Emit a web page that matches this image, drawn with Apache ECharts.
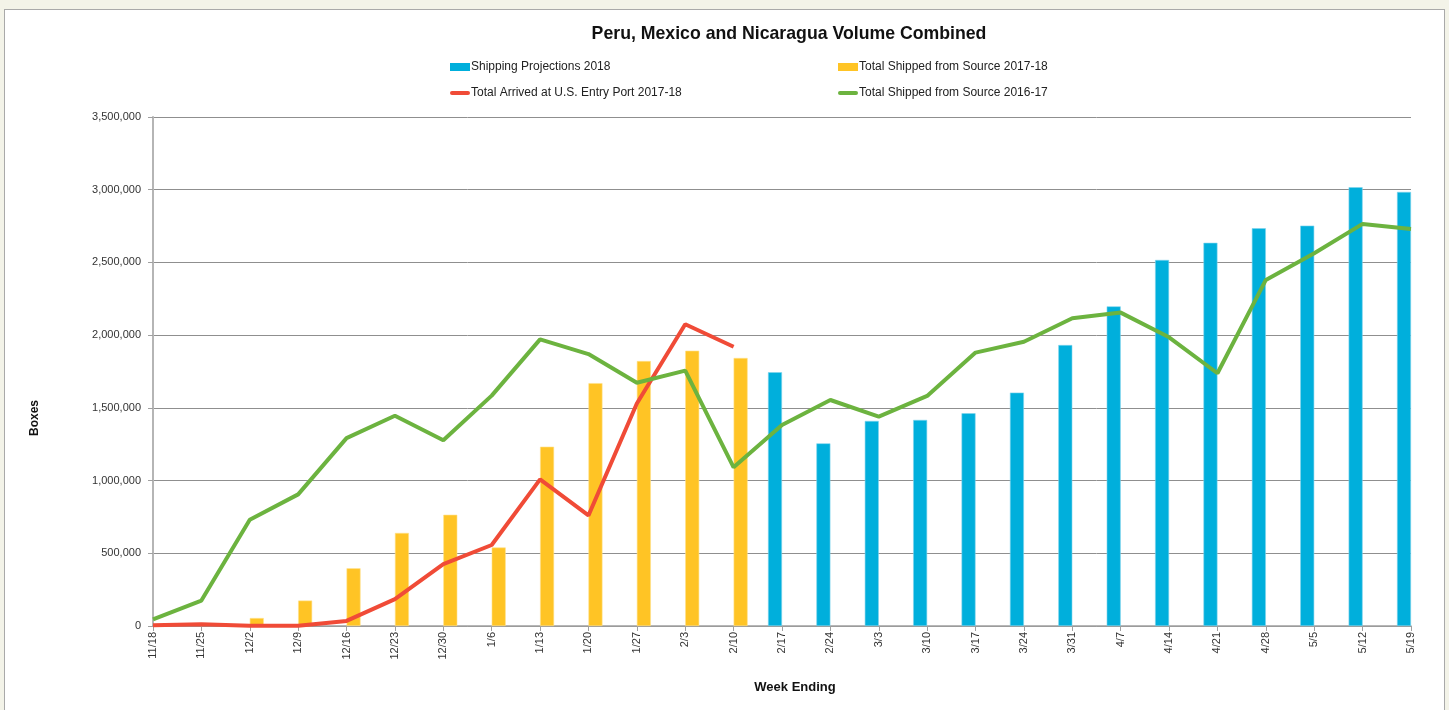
<!DOCTYPE html>
<html><head><meta charset="utf-8">
<script src="https://cdn.jsdelivr.net/npm/echarts@6/dist/echarts.min.js"></script>
<style>
html,body{margin:0;padding:0;background:#f3f3e8;width:1449px;height:710px;overflow:hidden;}
#panel{position:absolute;left:4px;top:9px;width:1439px;height:730px;background:#fff;border:1px solid #a9a9a9;}
#chart{position:absolute;left:0;top:0;width:1449px;height:710px;}
</style></head><body>
<div id="panel"></div><div id="chart"></div>
<script>
const categories = ['11/18','11/25','12/2','12/9','12/16','12/23','12/30','1/6','1/13','1/20','1/27','2/3','2/10','2/17','2/24','3/3','3/10','3/17','3/24','3/31','4/7','4/14','4/21','4/28','5/5','5/12','5/19'];
const projections2018 = [null,null,null,null,null,null,null,null,null,null,null,null,null,1745000,1256000,1410000,1417000,1463000,1605000,1932000,2198000,2517000,2635000,2735000,2753000,3017000,2985000];
const shipped1718 = [null,null,55000,175000,397000,640000,765000,540000,1233000,1670000,1822000,1893000,1843000,null,null,null,null,null,null,null,null,null,null,null,null,null,null];
const arrived1718 = [5000,12000,2000,2000,35000,185000,425000,557000,1008000,760000,1530000,2075000,1920000];
const shipped1617 = [45000,175000,730000,905000,1292000,1446000,1277000,1584000,1971000,1870000,1673000,1756000,1091000,1382000,1554000,1440000,1582000,1880000,1955000,2116000,2155000,1985000,1738000,2380000,2563000,2765000,2730000];
const yTicks = {min:0, max:3500000, interval:500000};

const FONT = '"Liberation Sans", Arial, Helvetica, sans-serif';
const LINE_ICON = 'path://M0,0 M20,8 M2,2 L18,2 Q20,2 20,4 Q20,6 18,6 L2,6 Q0,6 0,4 Q0,2 2,2 Z';
const legendCommon = {
  orient: 'vertical', top: 56, itemGap: 14,
  itemWidth: 20, itemHeight: 8,
  itemStyle: {borderWidth: 0},
  textStyle: {fontFamily: FONT, fontSize: 12, color: '#222', padding: [0,0,0,-4]}
};
const chart = echarts.init(document.getElementById('chart'), null, {renderer:'canvas'});
chart.setOption({
  backgroundColor: 'transparent',
  animation: false,
  title: {
    text: 'Peru, Mexico and Nicaragua Volume Combined',
    left: 784, top: 20, textAlign: 'center',
    textStyle: {fontFamily: FONT, fontSize: 17.7, fontWeight: 'bold', color: '#111'}
  },
  legend: [
    Object.assign({}, legendCommon, {left: 445,
      data: [{name:'Shipping Projections 2018', icon:'rect'}, {name:'Total Arrived at U.S. Entry Port 2017-18', icon: LINE_ICON}]}),
    Object.assign({}, legendCommon, {left: 833,
      data: [{name:'Total Shipped from Source 2017-18', icon:'rect'}, {name:'Total Shipped from Source 2016-17', icon: LINE_ICON}]})
  ],
  graphic: [{
    type: 'text', x: 35, y: 418, rotation: Math.PI / 2,
    style: {text: 'Boxes', fontFamily: FONT, fontSize: 12, fontWeight: 'bold', fill: '#111', align: 'center', verticalAlign: 'middle'}
  }],
  grid: {left: 153, right: 38, top: 117, bottom: 84, containLabel: false},
  xAxis: {
    type: 'category', data: categories, boundaryGap: false,
    name: 'Week Ending', nameLocation: 'middle', nameGap: 55,
    nameTextStyle: {fontFamily: FONT, fontSize: 13, fontWeight: 'bold', color: '#111', padding: [0,0,0,26]},
    axisLine: {lineStyle: {color: '#a0a0a0', width: 1.5}},
    axisTick: {show: true, alignWithLabel: true, length: 5, lineStyle: {color: '#a0a0a0'}},
    axisLabel: {rotate: 90, fontFamily: FONT, fontSize: 11, color: '#333', margin: 6, interval: 0},
    splitLine: {show: false}
  },
  yAxis: {
    type: 'value', min: yTicks.min, max: yTicks.max, interval: yTicks.interval,
    axisLine: {show: true, lineStyle: {color: '#b5b5b5', width: 2}},
    axisTick: {show: true, length: 5, lineStyle: {color: '#a0a0a0'}},
    axisLabel: {fontFamily: FONT, fontSize: 11, color: '#333', margin: 12,
      formatter: v => v.toLocaleString('en-US')},
    splitLine: {show: true, lineStyle: {color: '#8f8f8f', width: 1}}
  },
  series: [
    {name: 'Shipping Projections 2018', type: 'bar', data: projections2018, barWidth: 14, barGap: '0%',
     itemStyle: {color: '#00afdc', borderColor: '#7fd3ec', borderWidth: 0.6}},
    {name: 'Total Shipped from Source 2017-18', type: 'bar', data: shipped1718, barWidth: 14, barGap: '0%',
     itemStyle: {color: '#ffc425', borderColor: '#ffe08a', borderWidth: 0.6}},
    {name: 'Total Arrived at U.S. Entry Port 2017-18', type: 'line', data: arrived1718, symbol: 'none',
     lineStyle: {color: '#f04b37', width: 4}, itemStyle: {color: '#f04b37'}, z: 3},
    {name: 'Total Shipped from Source 2016-17', type: 'line', data: shipped1617, symbol: 'none',
     lineStyle: {color: '#6cb33f', width: 4}, itemStyle: {color: '#6cb33f'}, z: 4}
  ]
});
</script></body></html>
